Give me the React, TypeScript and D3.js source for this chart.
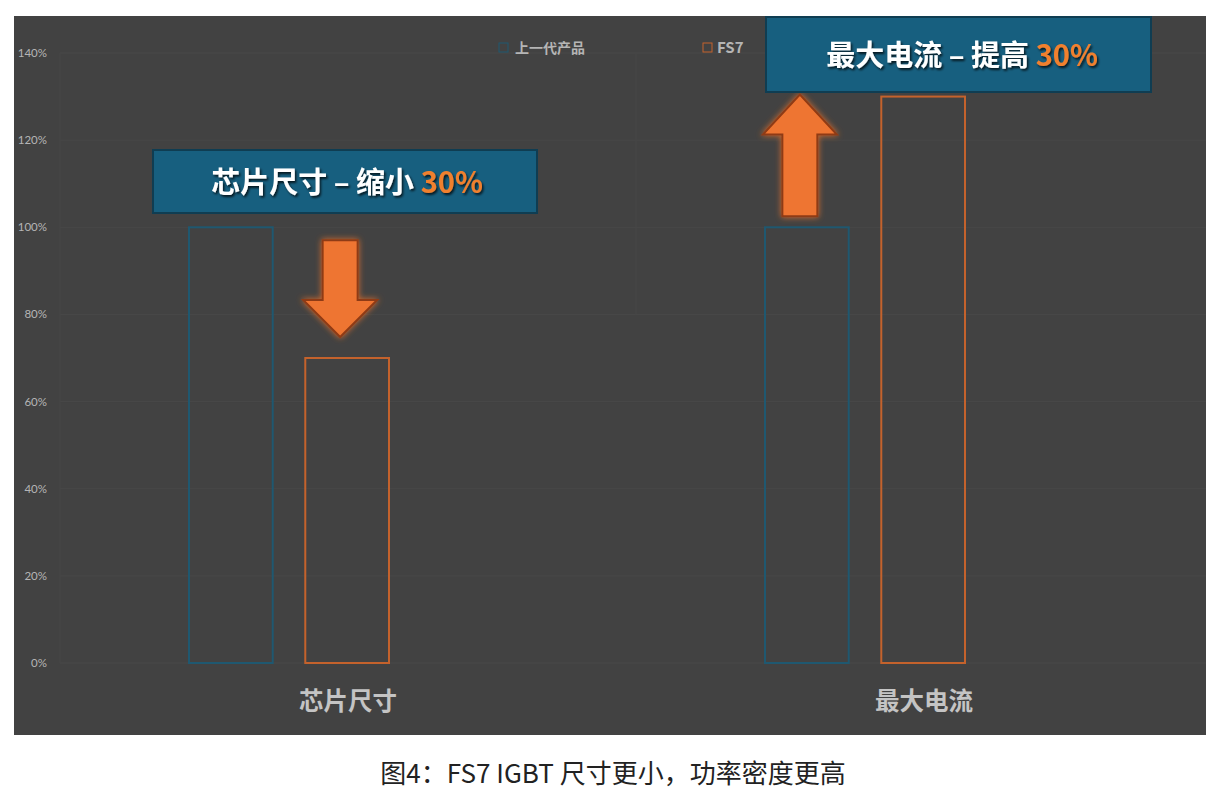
import React from "react";
import * as d3 from "d3";

const categories = ["芯片尺寸", "最大电流"];
const seriesNames = ["上一代产品", "FS7"];
const previousGen = [1.0, 1.0];
const fs7 = [0.7, 1.3];
const yTicks = [0, 0.2, 0.4, 0.6, 0.8, 1.0, 1.2, 1.4];
const annotations = [
  { main: "芯片尺寸 – 缩小 ", pct: "30%" },
  { main: "最大电流 – 提高 ", pct: "30%" },
];
const caption = "图4：FS7 IGBT 尺寸更小，功率密度更高";

const W = 1229;
const H = 797;
const seriesColors = ["#1f5870", "#c4622c"];

export default function App() {
  const y = d3.scaleLinear().domain([0, 1.4]).range([663, 53]);
  const x0 = d3.scaleBand<string>().domain(categories).range([60, 1212]);
  const x1 = d3
    .scaleBand<string>()
    .domain(seriesNames)
    .range([129, 329])
    .paddingInner(0.28);
  const bw = x1.bandwidth();
  const values = [previousGen, fs7];

  const downArrow = (cx: number, top: number, tip: number) => {
    const sw = 17.5, hw = 37, headH = 37;
    const hy = tip - headH;
    return `M${cx - sw},${top} L${cx + sw},${top} L${cx + sw},${hy} L${cx + hw},${hy} L${cx},${tip} L${cx - hw},${hy} L${cx - sw},${hy} Z`;
  };
  const upArrow = (cx: number, bottom: number, tip: number) => {
    const sw = 17.5, hw = 37, headH = 40;
    const hy = tip + headH;
    return `M${cx - sw},${bottom} L${cx + sw},${bottom} L${cx + sw},${hy} L${cx + hw},${hy} L${cx},${tip} L${cx - hw},${hy} L${cx - sw},${hy} Z`;
  };

  const c1 = categories[0];
  const c2 = categories[1];
  const orange1Center = x0(c1)! + x1(seriesNames[1])! + bw / 2 - 7;
  const blue2Center = x0(c2)! + x1(seriesNames[0])! + bw / 2 - 7;

  return (
    <div style={{ position: "fixed", left: 0, top: 0, width: W, height: H, background: "#fff" }}>
      <svg width={W} height={H} style={{ display: "block" }}>
        <defs>
          <filter id="glow" x="-50%" y="-50%" width="200%" height="200%">
            <feGaussianBlur in="SourceAlpha" stdDeviation="3" result="b" />
            <feFlood floodColor="#e8702a" floodOpacity="0.9" />
            <feComposite in2="b" operator="in" result="g" />
            <feMerge>
              <feMergeNode in="g" />
              <feMergeNode in="SourceGraphic" />
            </feMerge>
          </filter>
          <filter id="tshadow" x="-10%" y="-30%" width="120%" height="160%">
            <feDropShadow dx="1.5" dy="2" stdDeviation="0.8" floodColor="#000" floodOpacity="0.75" />
          </filter>
        </defs>
        <rect x={14} y={16} width={1192} height={719} fill="#424242" />
        {/* gridlines */}
        {yTicks.map((t) => (
          <line key={"g" + t} x1={60} x2={1206} y1={y(t)} y2={y(t)} stroke="#484848" strokeWidth={1} />
        ))}
        <line x1={60} x2={60} y1={y(1.4)} y2={y(0)} stroke="#474747" strokeWidth={1} />
        <line x1={636} x2={636} y1={y(1.4)} y2={y(0.8)} stroke="#474747" strokeWidth={1} />
        {/* y tick labels */}
        {yTicks.map((t) => (
          <text
            key={"t" + t}
            x={47}
            y={y(t) + 4}
            textAnchor="end"
            fontFamily="Lato, 'Open Sans', sans-serif"
            fontSize={11.5}
            fill="#b5b5b5"
          >
            {d3.format(".0%")(t)}
          </text>
        ))}
        {/* bars */}
        {categories.map((c, ci) =>
          seriesNames.map((s, si) => {
            const v = values[si][ci];
            return (
              <rect
                key={c + s}
                x={x0(c)! + x1(s)!}
                y={y(v)}
                width={bw}
                height={y(0) - y(v)}
                fill="none"
                stroke={seriesColors[si]}
                strokeWidth={2}
              />
            );
          })
        )}
        {/* category labels */}
        {categories.map((c) => (
          <text
            key={"c" + c}
            x={x0(c)! + x0.bandwidth() / 2}
            y={710}
            textAnchor="middle"
            fontFamily="'Noto Sans CJK SC', sans-serif"
            fontWeight="bold"
            fontSize={24.5}
            fill="#c4c4c4"
          >
            {c}
          </text>
        ))}
        {/* legend */}
        <rect x={499} y={43} width={9} height={9} fill="none" stroke={seriesColors[0]} strokeWidth={1} />
        <text x={515} y={53} fontFamily="'Noto Sans CJK SC', sans-serif" fontWeight="bold" fontSize={14} fill="#b5b5b5">
          {seriesNames[0]}
        </text>
        <rect x={703} y={43} width={9} height={9} fill="none" stroke={seriesColors[1]} strokeWidth={1} />
        <text x={717} y={53} fontFamily="'Noto Sans CJK SC', sans-serif" fontWeight="bold" fontSize={15} fill="#b5b5b5">
          {seriesNames[1]}
        </text>
        {/* arrows */}
        <path
          d={downArrow(orange1Center, y(1.0) + 13, y(fs7[0]) - 21)}
          fill="#ee7530"
          stroke="#8e3a16"
          strokeWidth={2}
          strokeLinejoin="miter"
          filter="url(#glow)"
        />
        <path
          d={upArrow(blue2Center, y(1.0) - 11, y(fs7[1]) - 2)}
          fill="#ee7530"
          stroke="#8e3a16"
          strokeWidth={2}
          strokeLinejoin="miter"
          filter="url(#glow)"
        />
        {/* annotation boxes */}
        <rect x={153} y={150} width={384} height={63} fill="#175f7f" stroke="#0f3d52" strokeWidth={2} />
        <text
          x={347}
          y={193}
          textAnchor="middle"
          fontFamily="'Noto Sans CJK SC', sans-serif"
          fontWeight="bold"
          fontSize={29}
          fill="#ffffff"
          filter="url(#tshadow)"
        >
          {annotations[0].main}
          <tspan fill="#f0802f">{annotations[0].pct}</tspan>
        </text>
        <rect x={766} y={17} width={385} height={75} fill="#175f7f" stroke="#0f3d52" strokeWidth={2} />
        <text
          x={962}
          y={66}
          textAnchor="middle"
          fontFamily="'Noto Sans CJK SC', sans-serif"
          fontWeight="bold"
          fontSize={29}
          fill="#ffffff"
          filter="url(#tshadow)"
        >
          {annotations[1].main}
          <tspan fill="#f0802f">{annotations[1].pct}</tspan>
        </text>
        {/* caption */}
        <text
          x={613}
          y={783}
          textAnchor="middle"
          fontFamily="'Noto Sans CJK SC', sans-serif"
          fontSize={26}
          fill="#222"
        >
          {caption}
        </text>
      </svg>
    </div>
  );
}
